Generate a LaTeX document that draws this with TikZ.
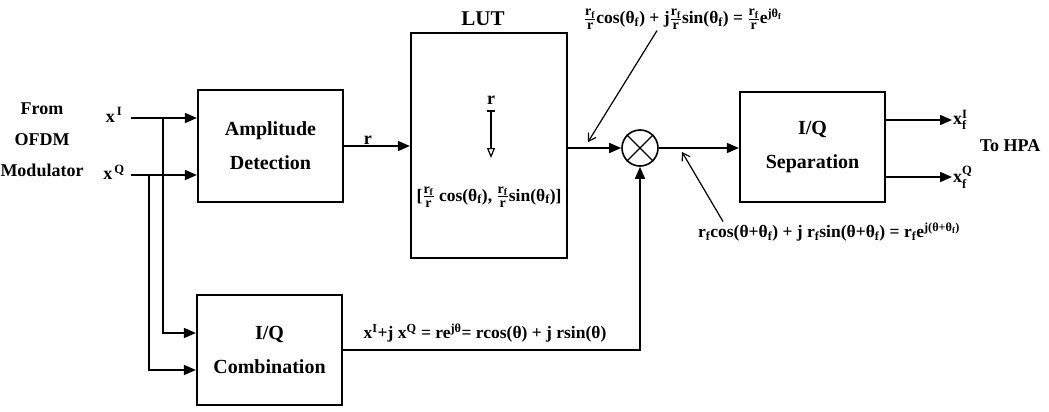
\documentclass[tikz,border=0pt]{standalone}
\usepackage{fontspec}
\usepackage{amsmath}
\setmainfont{Liberation Serif}
\usetikzlibrary{arrows.meta}
\newcommand\fr[2]{\ensuremath{\frac{\text{\fontsize{14}{14}\selectfont#1}}{\text{\fontsize{14}{14}\selectfont#2}}}}
\begin{document}
\begin{tikzpicture}[x=1pt,y=-1pt,
  blk/.style={draw,line width=2.2pt,minimum width=145pt,minimum height=110pt,align=center,font=\bfseries\fontsize{20}{34}\selectfont},
  conn/.style={line width=1.6pt,-{Triangle[length=12pt,width=10pt]}},
  note/.style={line width=1.2pt,-{Straight Barb[length=7pt,width=9pt]}},
  lbl/.style={font=\bfseries\fontsize{18}{31}\selectfont,inner sep=1pt},
  eqn/.style={font=\bfseries\fontsize{17.5}{20}\selectfont,inner sep=1pt}]
\useasboundingbox (0,0) rectangle (1049,412);
\node[blk,minimum height=112pt] (amp) at (270.5,146) {Amplitude\\Detection};
\node[blk] (comb) at (269.5,350) {I/Q\\Combination};
\node[blk,minimum width=156pt,minimum height=225pt] (lut) at (489,145.5) {};
\node[blk] (sep) at (812.5,147) {I/Q\\Separation};
\node[draw,circle,line width=1.6pt,minimum size=36pt] (mult) at (640,148) {};
\draw[line width=1.3pt] (mult.north west) -- (mult.south east) (mult.north east) -- (mult.south west);
\node[lbl,font=\bfseries\fontsize{21}{24}\selectfont] (luttl) at (483,19) {LUT};
\node[lbl] (lr) at (491,100) {r};
\coordinate (lrend) at (491,158);
\draw[line width=1.2pt,{Bar[width=8pt]}-{Triangle[open,length=10pt,width=8pt]}] ([yshift=-5pt]lr.south) -- (lrend);
\node[eqn] (lutf) at (489,197) {[\fr{r\textsubscript{f}}{r} cos(θ\textsubscript{f}), \fr{r\textsubscript{f}}{r}sin(θ\textsubscript{f})]};
\node[lbl,align=center] (src) at (42,140) {From\\OFDM\\Modulator};
\node[lbl] (xi) at (114,115) {$\text{x}^{\,\text{I}}$};
\node[lbl] (xq) at (114,172) {$\text{x}^{\,\text{Q}}$};
\coordinate (xis) at (131,118);
\coordinate (xqs) at (131,175);
\coordinate (bi) at (163,118);
\coordinate (bq) at (149,175);
\draw[conn] (xis) -- (amp.west |- xis);
\draw[conn] (xqs) -- (amp.west |- xqs);
\draw[conn] (bi) |- ([yshift=17pt]comb.west);
\draw[conn] (bq) |- ([yshift=-20pt]comb.west);
\draw[conn] (amp.east) -- (amp.east -| lut.west) node[lbl,pos=0.36,above] (ramp) {r};
\draw[conn] (lut.east |- mult) -- (mult.west);
\draw[conn] (mult.east) -- (mult.east -| sep.west);
\draw[conn] (comb.east) -| (mult.south);
\node[eqn] (cf) at (485,333) {x\textsuperscript{I}+j x\textsuperscript{Q} = re\textsuperscript{jθ}= rcos(θ) + j rsin(θ)};
\node[lbl,anchor=west] (xfi) at (952,120) {$\text{x}_{\text{f}}^{\text{I}}$};
\node[lbl,anchor=west] (xfq) at (952,177) {$\text{x}_{\text{f}}^{\text{Q}}$};
\draw[conn] ([yshift=27pt]sep.east) -- (xfi.west);
\draw[conn] ([yshift=-30pt]sep.east) -- (xfq.west);
\node[lbl] (hpa) at (1010,146) {To HPA};
\node[eqn] (tf) at (683,19) {\fr{r\textsubscript{f}}{r}cos(θ\textsubscript{f}) + j\fr{r\textsubscript{f}}{r}sin(θ\textsubscript{f}) = \fr{r\textsubscript{f}}{r}e\textsuperscript{jθ\textsubscript{f}}};
\coordinate (ta) at (588,142);
\draw[note] ([xshift=-26pt]tf.south) -- (ta);
\node[eqn] (bf) at (829,232) {r\textsubscript{f}cos(θ+θ\textsubscript{f}) + j r\textsubscript{f}sin(θ+θ\textsubscript{f}) = r\textsubscript{f}e\textsuperscript{j(θ+θ\textsubscript{f})}};
\coordinate (ba) at (682,152);
\draw[note] ([xshift=-106pt]bf.north) -- (ba);
\end{tikzpicture}
\end{document}
